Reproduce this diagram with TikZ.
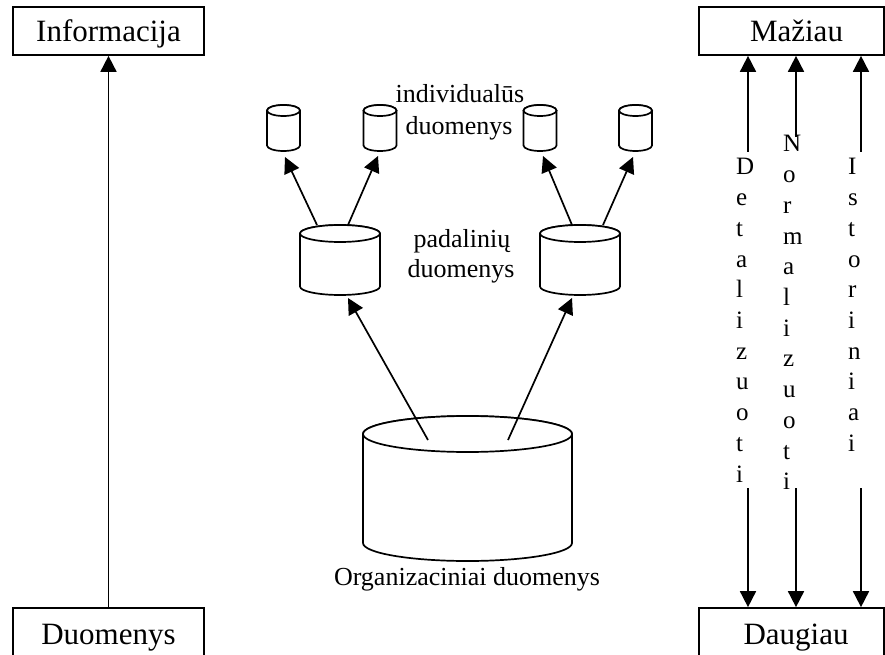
\documentclass[tikz,border=0pt]{standalone}
\usepackage{fontspec}
\setmainfont{Liberation Serif}
\usetikzlibrary{arrows.meta}

% database drum: centre x, top y, bottom y, x radius, y radius
\newcommand\dbdrum[5]{%
  \filldraw[drum] (#1-#4,#2+#5) -- (#1-#4,#3-#5)
    arc[start angle=180,end angle=360,x radius=#4pt,y radius=#5pt]
    -- (#1+#4,#2+#5)
    arc[start angle=0,end angle=180,x radius=#4pt,y radius=#5pt] -- cycle;
  \draw[drum] (#1,#2+#5) ellipse[x radius=#4pt,y radius=#5pt];
}

\tikzset{
  drum/.style={line width=1.7pt, fill=white, draw=black},
  boxnode/.style={draw, line width=1.7pt, rectangle, inner sep=0pt,
    font=\fontsize{31}{36}\selectfont, text height=25pt, text depth=3pt},
  lbl/.style={inner sep=0pt, font=\fontsize{26}{30}\selectfont},
  vlbl/.style={inner sep=0pt, anchor=base west, font=\fontsize{25}{30.7}\selectfont},
  arr/.style={line width=1.7pt, -{Triangle[length=16pt,width=16pt]}},
}

\begin{document}
\begin{tikzpicture}[x=1pt,y=-1pt]
  \useasboundingbox (0,0) rectangle (885,655);

  % left column
  \node[boxnode, minimum width=191pt, minimum height=48pt] (info) at (108.5,31) {Informacija};
  \node[boxnode, minimum width=191pt, minimum height=50pt] (duom) at (108.5,633) {Duomenys};
  \draw[arr] (duom.north) -- (info.south);

  % right column
  \node[boxnode, minimum width=185pt, minimum height=48pt] (maz) at (791.5,31) {\kern10pt Mažiau};
  \node[boxnode, minimum width=185pt, minimum height=50pt] (daug) at (791.5,633) {\kern9pt Daugiau};

  \coordinate (det-top) at (748,152);
  \coordinate (det-bot) at (748,488);
  \coordinate (nor-top) at (796,137);
  \coordinate (nor-bot) at (796,488);
  \coordinate (ist-top) at (861,152);
  \coordinate (ist-bot) at (861,488);
  \foreach \c in {det,nor,ist}{
    \draw[arr] (\c-top) -- (maz.south -| \c-top);
    \draw[arr] (\c-bot) -- (daug.north -| \c-bot);
  }

  \node[vlbl] (det) at (736,175) {\begin{tabular}[t]{@{}l@{}}D\\e\\t\\a\\l\\i\\z\\u\\o\\t\\i\end{tabular}};
  \node[vlbl] (nor) at (783,152) {\begin{tabular}[t]{@{}l@{}}N\\o\\r\\m\\a\\l\\i\\z\\u\\o\\t\\i\end{tabular}};
  \node[vlbl] (ist) at (848,175) {\begin{tabular}[t]{@{}l@{}}I\\s\\t\\o\\r\\i\\n\\i\\a\\i\end{tabular}};

  % data stores
  \dbdrum{283.5}{105}{151}{16.5}{5.5}
  \dbdrum{380}{105}{151}{16.5}{5.5}
  \dbdrum{540}{105}{151}{16.5}{5.5}
  \dbdrum{635.5}{105}{151}{16.5}{5.5}
  \dbdrum{340}{225}{295}{40}{8.5}
  \dbdrum{580}{225}{295}{40}{8.5}
  \dbdrum{467.5}{416}{561}{104.5}{18}

  % connector end points on the drums
  \coordinate (org-l) at (428,440);
  \coordinate (org-r) at (508,440);
  \coordinate (padl-in) at (348,298);
  \coordinate (padr-in) at (572,298);
  \coordinate (padl-o1) at (317,225);
  \coordinate (padl-o2) at (348,225);
  \coordinate (padr-o1) at (572,225);
  \coordinate (padr-o2) at (603,225);
  \coordinate (ind1) at (285,157);
  \coordinate (ind2) at (378,156);
  \coordinate (ind3) at (543,156);
  \coordinate (ind4) at (633,157);

  \draw[arr] (org-l) -- (padl-in);
  \draw[arr] (org-r) -- (padr-in);
  \draw[arr] (padl-o1) -- (ind1);
  \draw[arr] (padl-o2) -- (ind2);
  \draw[arr] (padr-o1) -- (ind3);
  \draw[arr] (padr-o2) -- (ind4);

  % labels
  \node[lbl, anchor=base] (lind1) at (460,103) {individualūs};
  \node[lbl, anchor=base] (lind2) at (459,135) {duomenys};
  \node[lbl, anchor=base] (lpad1) at (462,247) {padalinių};
  \node[lbl, anchor=base] (lpad2) at (461,277) {duomenys};
  \node[lbl, anchor=base] (lorg) at (467,585) {Organizaciniai duomenys};
\end{tikzpicture}
\end{document}
